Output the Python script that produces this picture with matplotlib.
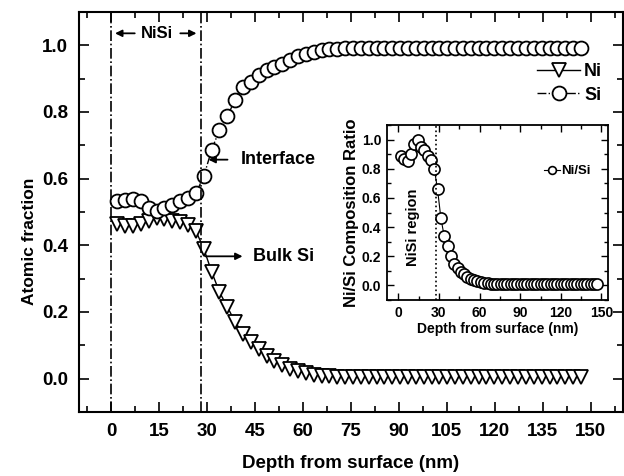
import matplotlib
matplotlib.use("Agg")
import matplotlib.pyplot as plt
from matplotlib.ticker import MultipleLocator

plt.rcParams['font.family'] = ['Liberation Sans', 'DejaVu Sans']
plt.rcParams['font.weight'] = 'bold'

depth = [2.0, 4.5, 6.9, 9.4, 11.8, 14.3, 16.7, 19.2, 21.7, 24.1,
         26.6, 29.0, 31.5, 33.9, 36.4, 38.8, 41.3, 43.8, 46.2, 48.7,
         51.1, 53.6, 56.0, 58.5, 61.0, 63.4, 65.9, 68.3, 70.8, 73.2,
         75.7, 78.1, 80.6, 83.1, 85.5, 88.0, 90.4, 92.9, 95.3, 97.8,
         100.3, 102.7, 105.2, 107.6, 110.1, 112.5, 115.0, 117.4, 119.9, 122.4,
         124.8, 127.3, 129.7, 132.2, 134.6, 137.1, 139.5, 142.0, 144.5, 146.9]

ni = [0.465, 0.458, 0.458, 0.463, 0.473, 0.483, 0.478, 0.474, 0.470, 0.460,
      0.442, 0.390, 0.320, 0.260, 0.215, 0.170, 0.135, 0.110, 0.088, 0.068,
      0.052, 0.040, 0.030, 0.022, 0.016, 0.012, 0.009, 0.007, 0.006, 0.005,
      0.005, 0.005, 0.005, 0.005, 0.005, 0.005, 0.005, 0.005, 0.005, 0.005,
      0.005, 0.005, 0.005, 0.005, 0.005, 0.005, 0.005, 0.005, 0.005, 0.005,
      0.005, 0.005, 0.005, 0.005, 0.005, 0.005, 0.005, 0.005, 0.005, 0.005]

si = [0.532, 0.537, 0.540, 0.532, 0.512, 0.502, 0.512, 0.522, 0.532, 0.542,
      0.557, 0.607, 0.687, 0.746, 0.788, 0.836, 0.874, 0.890, 0.910, 0.927,
      0.935, 0.945, 0.957, 0.967, 0.975, 0.980, 0.985, 0.988, 0.990, 0.992,
      0.993, 0.993, 0.993, 0.993, 0.993, 0.993, 0.993, 0.993, 0.993, 0.993,
      0.993, 0.993, 0.993, 0.993, 0.993, 0.993, 0.993, 0.993, 0.993, 0.993,
      0.993, 0.993, 0.993, 0.993, 0.993, 0.993, 0.993, 0.993, 0.993, 0.993]

ratio = [0.89, 0.87, 0.85, 0.90, 0.97, 1.00, 0.95, 0.93, 0.89, 0.86,
         0.80, 0.66, 0.46, 0.34, 0.27, 0.20, 0.15, 0.12, 0.095, 0.075,
         0.055, 0.045, 0.035, 0.028, 0.022, 0.018, 0.015, 0.013, 0.012, 0.011,
         0.010, 0.010, 0.010, 0.010, 0.010, 0.010, 0.010, 0.010, 0.010, 0.010,
         0.010, 0.010, 0.010, 0.010, 0.010, 0.010, 0.010, 0.010, 0.010, 0.010,
         0.010, 0.010, 0.010, 0.010, 0.010, 0.010, 0.010, 0.010, 0.010, 0.010]

x_ticks = [0, 15, 30, 45, 60, 75, 90, 105, 120, 135, 150]
y_ticks = [0.0, 0.2, 0.4, 0.6, 0.8, 1.0]
inset_x_ticks = [0, 30, 60, 90, 120, 150]

fig = plt.figure(figsize=(6.24, 4.76), dpi=100)
ax = fig.add_axes([0.1266, 0.1345, 0.8714, 0.8403])

ax.plot(depth, ni, '-', color='black', lw=1.0, marker='v', ms=10,
        mfc='white', mec='black', mew=1.3, label='Ni')
ax.plot(depth, si, '-.', color='black', lw=1.0, marker='o', ms=10,
        mfc='white', mec='black', mew=1.3, label='Si')

ax.axvline(0, color='black', ls='-.', lw=1.2)
ax.axvline(28, color='black', ls='-.', lw=1.2)

ax.set_xlim(-10, 160)
ax.set_ylim(-0.1, 1.1)
ax.set_xticks(x_ticks)
ax.set_yticks(y_ticks)
ax.set_xticklabels([str(t) for t in x_ticks])
ax.set_yticklabels([f"{t:.1f}" for t in y_ticks])
ax.xaxis.set_minor_locator(MultipleLocator(7.5))
ax.yaxis.set_minor_locator(MultipleLocator(0.1))
ax.tick_params(which='both', direction='in', top=True, right=True,
               labelsize=13.5, width=1.2)
ax.tick_params(which='major', length=7, pad=8)
ax.tick_params(which='minor', length=4)
for s in ax.spines.values():
    s.set_linewidth(1.5)
for lab in ax.get_xticklabels() + ax.get_yticklabels():
    lab.set_fontweight('bold')

ax.set_xlabel('Depth from surface (nm)', fontsize=13.5, fontweight='bold', labelpad=11)
ax.set_ylabel('Atomic fraction', fontsize=12.5, fontweight='bold')
ax.yaxis.set_label_coords(-0.077, 0.4275)

leg = ax.legend(loc='upper right', bbox_to_anchor=(0.962, 0.872), frameon=False,
                fontsize=13, handlelength=2.4, handletextpad=0.2,
                labelspacing=0.35, borderaxespad=0.0, borderpad=0.0)
for t in leg.get_texts():
    t.set_fontweight('bold')

# annotations
arrow = dict(arrowstyle='-|>', color='black', lw=1.3, mutation_scale=10)
ax.text(14.5, 1.036, 'NiSi', ha='center', va='center', fontsize=12, fontweight='bold')
ax.annotate('', xy=(0.4, 1.036), xytext=(8.3, 1.036), arrowprops=arrow)
ax.annotate('', xy=(27.6, 1.036), xytext=(20.8, 1.036), arrowprops=arrow)

ax.text(40.5, 0.657, 'Interface', ha='left', va='center', fontsize=13, fontweight='bold')
ax.annotate('', xy=(29.6, 0.657), xytext=(37.3, 0.657), arrowprops=arrow)

ax.text(44.5, 0.367, 'Bulk Si', ha='left', va='center', fontsize=13, fontweight='bold')
ax.annotate('', xy=(42.0, 0.367), xytext=(28.6, 0.367), arrowprops=arrow)

# inset
ins = fig.add_axes([0.6197, 0.3697, 0.3551, 0.3677])
ins.plot(depth, ratio, '-', color='black', lw=0.8, marker='o', ms=8,
         mfc='white', mec='black', mew=1.2, label='Ni/Si')
ins.axvline(28, color='black', ls=':', lw=1.2)
ins.set_xlim(-8.5, 155)
ins.set_ylim(-0.1, 1.1)
ins.set_xticks(inset_x_ticks)
ins.set_yticks(y_ticks)
ins.set_xticklabels([str(t) for t in inset_x_ticks])
ins.set_yticklabels([f"{t:.1f}" for t in y_ticks])
ins.xaxis.set_minor_locator(MultipleLocator(15))
ins.yaxis.set_minor_locator(MultipleLocator(0.1))
ins.tick_params(which='both', direction='in', top=True, right=True,
                labelsize=10, width=1.0)
ins.tick_params(which='major', length=5, pad=4)
ins.tick_params(which='minor', length=3)
for s in ins.spines.values():
    s.set_linewidth(1.3)
for lab in ins.get_xticklabels() + ins.get_yticklabels():
    lab.set_fontweight('bold')
ins.set_xlabel('Depth from surface (nm)', fontsize=10, fontweight='bold', labelpad=2)
ins.set_ylabel('Ni/Si Composition Ratio', fontsize=12, fontweight='bold', labelpad=2)
ins.text(10.7, 0.40, 'NiSi region', rotation=90, ha='center', va='center',
         fontsize=10.5, fontweight='bold')
leg2 = ins.legend(loc='center right', bbox_to_anchor=(0.92, 0.737), frameon=False,
                  fontsize=9.5, handlelength=1.2, handletextpad=0.1,
                  borderaxespad=0.0, borderpad=0.0, markerscale=0.7)
for t in leg2.get_texts():
    t.set_fontweight('bold')

fig.savefig('out.png', dpi=100)
